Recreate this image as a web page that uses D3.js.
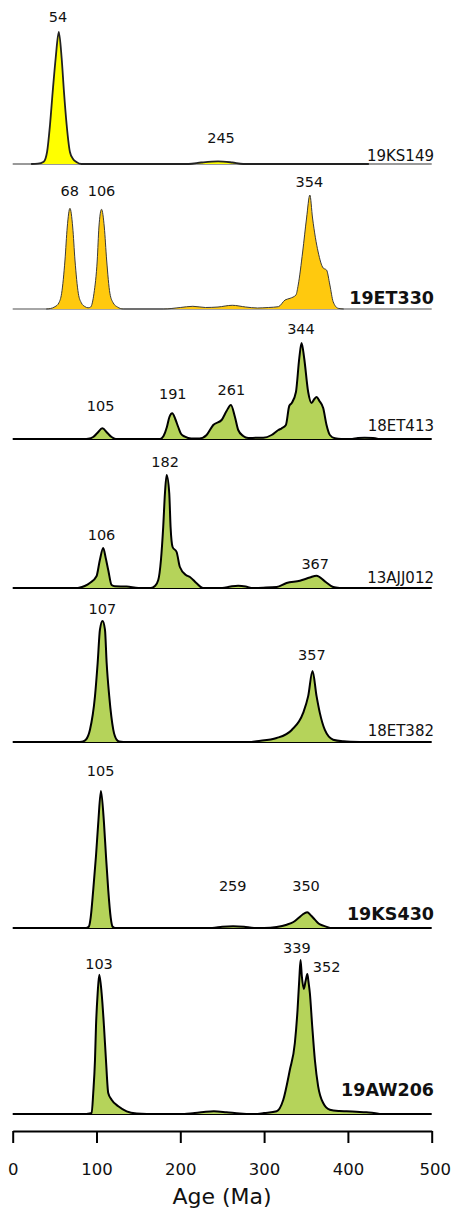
<!DOCTYPE html>
<html>
<head>
<meta charset="utf-8">
<script src="https://cdn.jsdelivr.net/npm/d3@7"></script>
<style>
    body { margin: 0; background: #fff; }
    svg text { font-family: "DejaVu Sans", sans-serif; fill: #111; }
</style>
</head>
<body>
<div id="chart"></div>
<script>
// Detrital zircon age spectra: [age (Ma), relative probability]
const ks149 = [[22,0],[30,0.3],[37,2.3],[41,12],[44.5,39],[47.7,72],[51.3,106],[55,132],[58.4,106],[61.2,72],[64.4,39],[68.3,12],[72,5],[76,2],[82,0],
    [210,0],[225,1.5],[245,2.7],[262,1.5],[275,0],[425,0]];
const et330 = [[40,0],[45,0.5],[50.5,2.3],[55,6],[58.4,15.7],[62.4,49],[65.1,82],[68.3,100.7],[71.6,82],[74.3,49],[78.3,15.7],[82,6],[86,2.5],[90,1.2],
    [93,2],[97,15.7],[100.9,49],[102.9,82],[106,99.7],[109.3,82],[112.1,49],[116,15.7],[120,6],[125,2],[132,0],
    [180,0],[200,1.5],[215,2.7],[230,1.5],[245,2],[262,3.7],[278,2],[292,1],[305,1.5],[317,2.3],[325,9],[331,10.7],[338,14],
    [340.7,24],[346,57],[350.7,91],[354.6,114],[357.8,91],[364.5,57],[370.5,41],[374.5,39],[378.5,24],[382.4,7.3],[388.4,0.7],[395,0]];
const et413 = [[85,0],[90,0.3],[96,2],[101,6],[107,10.7],[113,6],[118,2],[123,0],
    [176,0],[180,3],[184,12],[187,22],[190.4,25.7],[194,20],[197.5,12],[201,5],[205.5,2.3],[213,0.5],
    [223,0.5],[231.4,4],[239.3,14],[249.3,19],[255.2,28],[260.4,34],[265.2,22],[269.1,9],[275,3],[281,1],[290,1.2],
    [299,1.3],[309,4],[317,9],[321,10.7],[326,14],[330,33],[333,36],[338,47],[342,81],[344.7,96],[347.8,81],[352.6,47],
    [356.6,36],[360,40],[362.6,42],[366,38],[370.5,31],[374.5,14],[378.5,4],[384.5,0.7],[392,0],[405,0],[412,1],[420,1.2],[430,1],[436,0]];
const ajj012 = [[78,0],[86,2],[92,5],[100,11.7],[104,28],[108,40],[111,30],[114,18],[118,3],[122,1.7],[136,1.5],[150,0],
    [165,0],[169.7,2],[173.7,8],[176.9,28],[179.6,61],[181.7,95],[183.7,113],[186.8,95],[188.4,61],[190.8,41],[195.6,36],
    [199.5,21],[206.7,13],[211.5,11],[219.5,4.7],[227,0],
    [250,0],[260,1.5],[269,2.3],[278,1.5],[285,0],[299,0.3],[315,1],[326.8,5],[342.7,7.3],[354.6,10.5],[362.6,12.3],
    [372.5,6.7],[382.4,1],[390,0]];
const et382 = [[80,0],[84,0.5],[87.4,2.3],[92.2,12.3],[98.2,45.7],[101.4,79],[104.1,112],[107.2,120.6],[110.1,112],[112.1,79],
    [115.2,45.7],[120,12.3],[124,2.3],[127,0.5],[132,0],
    [285,0],[291,0.7],[315,4],[333,12],[346.6,29],[352.6,45.7],[357.8,70.7],[362.6,45.7],[366.5,29],[372.5,12],[382.4,2.3],[395,0.7],[414,0]];
const ks430 = [[88,0],[91,1.5],[93,10],[96.1,38],[99.4,72],[102.1,105],[105.3,136.6],[108.9,105],[111.3,72],[114,38],[117,10],[119,1.5],[122,0],
    [238,0],[250,1.2],[263,1.7],[276,1.2],[288,0],
    [300,0],[315,1],[327,3.3],[335,6],[341,10],[346,13.5],[351.4,15.7],[356,12.5],[360.6,8.3],[365,4.5],[370.5,2.3],[378.5,0]];
const aw206 = [[88,0],[94.2,1],[96.1,21],[98.2,54],[99.4,88],[101.4,121],[103.3,139.3],[106.1,121],[108.9,88],[111.3,54],[114,21],
    [118,14.3],[126,7.7],[136,2.7],[148,0.5],[160,0],
    [205,0],[215,0.8],[228,2],[240,2.7],[255,1.8],[271,0.5],[285,0],
    [289,0],[300,1],[315,2.7],[322.8,14],[330.7,44],[336.7,71],[339.9,104],[342,135],[343.5,154],[345,138],[347.4,125],
    [349.5,133],[351.6,140],[353,132],[354.6,121],[357.4,88],[360.6,54],[364.5,27.7],[370.5,11],[378.5,4.3],[390,3],
    [398.4,2.7],[410,2.2],[422,1.7],[438,0]];

const curves = [ks149, et330, et413, ajj012, et382, ks430, aw206];
const sampleNames = ['19KS149', '19ET330', '18ET413', '13AJJ012', '18ET382', '19KS430', '19AW206'];
const boldName = [false, true, false, false, false, true, true];
const peakLabels = [[54, 245], [68, 106, 354], [105, 191, 261, 344], [106, 182, 367], [107, 357], [105, 259, 350], [103, 339, 352]];
const ageTicks = [0, 100, 200, 300, 400, 500];

// Layout
const width = 452, height = 1210;
const baselines = [164, 309, 439, 588, 742, 928, 1114];
const panelPx = [132, 114, 96, 113, 121, 137, 154];
const nameDy = [-3.5, -5, -8, -5.5, -6.5, -8.5, -18.5];
const labelGap = [[15, 24], [18, 19, 13], [23, 20, 15, 14], [13, 13, 12], [12, 16], [20, 41, 27], [11, 12, 7]];
const labelDx = { '0-245': 3, '3-367': -5, '5-259': 3, '6-352': 19 };
const fills = ['#ffff00', '#ffc90e', '#b5d35a', '#b5d35a', '#b5d35a', '#b5d35a', '#b5d35a'];
const lineColors = ['#222', '#3a3a3a', '#000', '#000', '#000', '#000', '#000'];
const lineWidths = [1.8, 1, 2, 2, 2, 2, 2];
const baseColors = ['#777', '#888', '#000', '#000', '#000', '#000', '#000'];

const svg = d3.select('#chart').append('svg')
    .attr('width', width)
    .attr('height', height);

const x = d3.scaleLinear().domain([0, 500]).range([12.7, 431.7]);

curves.forEach((curve, i) => {
    const base = baselines[i];
    const y = d3.scaleLinear()
        .domain([0, d3.max(curve, d => d[1])])
        .range([base, base - panelPx[i]]);

    const g = svg.append('g').attr('class', 'panel');

    // baseline across the full age range
    g.append('line')
        .attr('x1', x(0)).attr('x2', x(500))
        .attr('y1', base).attr('y2', base)
        .attr('stroke', baseColors[i])
        .attr('stroke-width', i < 2 ? 1.4 : 2);

    const area = d3.area()
        .x(d => x(d[0]))
        .y0(base)
        .y1(d => y(d[1]))
        .curve(d3.curveMonotoneX);

    const line = d3.line()
        .x(d => x(d[0]))
        .y(d => y(d[1]))
        .curve(d3.curveMonotoneX);

    g.append('path')
        .datum(curve)
        .attr('fill', fills[i])
        .attr('d', area);

    g.append('path')
        .datum(curve)
        .attr('fill', 'none')
        .attr('stroke', lineColors[i])
        .attr('stroke-width', lineWidths[i])
        .attr('stroke-linejoin', 'round')
        .attr('d', line);

    // peak age labels
    peakLabels[i].forEach((age, j) => {
        const top = d3.max(curve.filter(d => Math.abs(d[0] - age) <= 5), d => d[1]);
        g.append('text')
            .attr('x', x(age) + (labelDx[i + '-' + age] || 0))
            .attr('y', y(top) - labelGap[i][j] + 5.3)
            .attr('text-anchor', 'middle')
            .style('font-size', '14.5px')
            .text(age);
    });

    // sample name
    g.append('text')
        .attr('x', 434)
        .attr('y', base + nameDy[i])
        .attr('text-anchor', 'end')
        .style('font-size', boldName[i] ? '17.5px' : '15px')
        .style('font-weight', boldName[i] ? 'bold' : 'normal')
        .text(sampleNames[i]);
});

// Age axis
const axis = svg.append('g')
    .attr('transform', 'translate(0,1131)')
    .call(d3.axisBottom(x)
        .tickValues(ageTicks)
        .tickSize(12)
        .tickSizeOuter(0)
        .tickPadding(20));

axis.select('.domain').attr('stroke', '#000').attr('stroke-width', 2);
axis.selectAll('.tick line').attr('stroke', '#000').attr('stroke-width', 2);
axis.selectAll('.tick text')
    .style('font-size', '16.5px')
    .style('font-family', '"DejaVu Sans", sans-serif')
    .attr('fill', '#111')
    .attr('dx', d => d === 500 ? 3 : 0);  // keep the last label inside the page edge

svg.append('text')
    .attr('x', 222)
    .attr('y', 1203.5)
    .attr('text-anchor', 'middle')
    .style('font-size', '22px')
    .text('Age (Ma)');
</script>
</body>
</html>
